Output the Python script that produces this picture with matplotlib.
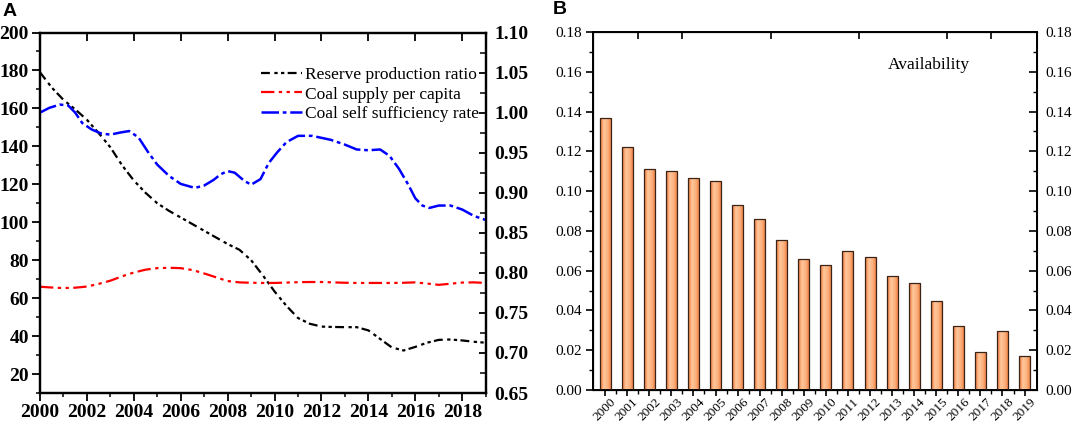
#Coal indicators (A) and availability bars (B), 2000-2019.

#Import libraries
import numpy as np
import matplotlib
matplotlib.use("Agg")
import matplotlib.pyplot as plt
from matplotlib.colors import LinearSegmentedColormap

#Panel A: reserve production ratio (left axis).
rpr_years = [2000, 2000.5, 2001, 2001.5, 2002, 2002.5, 2003, 2003.5, 2004, 2004.5,
             2005, 2005.5, 2006, 2006.5, 2007, 2007.5, 2008, 2008.5, 2009, 2009.5,
             2010, 2010.5, 2011, 2011.5, 2012, 2012.5, 2013, 2013.5, 2014, 2014.5,
             2015, 2015.5, 2016, 2016.5, 2017, 2017.5, 2018, 2018.5, 2019]
rpr_values = [179, 171, 164.5, 159.5, 154, 147, 139.5, 130, 122, 115.5,
              110, 106, 102.5, 99, 95.5, 92, 88.5, 85.5, 80, 72,
              63.5, 56, 49.5, 46.5, 45, 44.8, 44.7, 44.7, 43, 38.5,
              34, 32.4, 34.3, 36.5, 38, 38.2, 37.7, 37, 36.5]

#Coal supply per capita (left axis), same years.
supply_values = [66, 65.6, 65.3, 65.5, 66.1, 67.5, 69.2, 71.5, 73.5, 75,
                 75.8, 76, 75.8, 74.8, 73, 71, 69, 68.3, 68.1, 68,
                 68, 68.2, 68.4, 68.5, 68.5, 68.3, 68.1, 68, 68, 68,
                 68, 68.1, 68.3, 67.7, 67, 67.6, 68.2, 68.3, 68]

#Coal self sufficiency rate (right axis).
ssr_years = [2000, 2000.4, 2000.85, 2001.2, 2001.5, 2001.8, 2002.2, 2002.6, 2003, 2003.4,
             2003.8, 2004.2, 2004.6, 2005, 2005.5, 2006, 2006.6, 2007, 2007.4, 2007.7,
             2008, 2008.3, 2008.7, 2009, 2009.4, 2009.75, 2010.1, 2010.5, 2011, 2011.6,
             2012.4, 2013, 2013.5, 2014, 2014.5, 2014.9, 2015.3, 2015.7, 2016, 2016.3,
             2016.6, 2017, 2017.5, 2018, 2018.5, 2019]
ssr_values = [1.0, 1.006, 1.010, 1.009, 1.0, 0.987, 0.979, 0.974, 0.9725, 0.975,
              0.977, 0.969, 0.951, 0.935, 0.921, 0.911, 0.906, 0.909, 0.916, 0.923,
              0.927, 0.925, 0.915, 0.910, 0.917, 0.937, 0.950, 0.963, 0.971, 0.971,
              0.966, 0.960, 0.954, 0.953, 0.954, 0.946, 0.930, 0.910, 0.893, 0.884,
              0.881, 0.884, 0.884, 0.879, 0.871, 0.866]

#Panel B: availability per year.
bar_years = [str(y) for y in range(2000, 2020)]
availability = [0.137, 0.122, 0.111, 0.110, 0.1065, 0.105, 0.093, 0.086, 0.0755, 0.066,
                0.063, 0.070, 0.067, 0.0575, 0.054, 0.0445, 0.032, 0.019, 0.0295, 0.017]

serif = ["Liberation Serif", "DejaVu Serif"]
plt.rcParams["font.family"] = serif

fig = plt.figure(figsize=(10.72, 4.25), dpi=100)
W, H = 1072.0, 425.0

#---------------- Panel A ----------------
axA = fig.add_axes([40 / W, 1 - 393 / H, 445.7 / W, 360.5 / H])
axA2 = axA.twinx()

l1, = axA.plot(rpr_years, rpr_values, color="black", lw=1.6,
               ls=(0, (4, 2, 1.5, 1.5, 1.5, 1.5)), label="Reserve production ratio")
l2, = axA.plot(rpr_years, supply_values, color="red", lw=1.6,
               ls=(0, (6, 2, 1.5, 2, 1.5, 2)), label="Coal supply per capita")
l3, = axA2.plot(ssr_years, ssr_values, color="blue", lw=1.8,
                ls=(0, (7, 1.5, 1.5, 1.5)), label="Coal self sufficiency rate")

axA.set_xlim(2000, 2019)
axA.set_ylim(10, 200)
axA2.set_ylim(0.65, 1.10)
axA.set_xticks(range(2000, 2019, 2))
axA.set_xticks(range(2000, 2020), minor=True)
axA.set_yticks(range(20, 201, 20))
axA.set_yticks(range(10, 201, 10), minor=True)
axA2.set_yticks(np.arange(0.65, 1.101, 0.05))
axA2.set_yticks(np.arange(0.65, 1.101, 0.025), minor=True)
axA2.set_yticklabels(["%.2f" % v for v in np.arange(0.65, 1.101, 0.05)])

for lab in axA.get_xticklabels() + axA.get_yticklabels() + axA2.get_yticklabels():
    lab.set_fontweight("bold")
    lab.set_fontsize(14)
axA.tick_params(axis="both", which="major", direction="out", length=6, width=1.3, pad=2)
axA.tick_params(axis="both", which="minor", direction="out", length=3, width=1.1)
axA2.tick_params(axis="y", which="major", direction="in", length=5, width=1.3, pad=6)
axA2.tick_params(axis="y", which="minor", direction="in", length=4, width=1.1)
for sp in axA.spines.values():
    sp.set_linewidth(1.6)
for sp in axA2.spines.values():
    sp.set_linewidth(1.6)
#top ticks point inward
axA.xaxis.set_tick_params(which="major", top=True, labeltop=False)
for t in axA.xaxis.get_major_ticks():
    t.tick2line.set_marker(3)

axA.legend(handles=[l1, l2, l3], loc="upper right", bbox_to_anchor=(0.985, 0.905),
           frameon=False, fontsize=12.5, handlelength=2.4, handletextpad=0.15,
           labelspacing=0.2, borderpad=0, borderaxespad=0)

#---------------- Panel B ----------------
axB = fig.add_axes([593 / W, 1 - 390 / H, 443.7 / W, 358 / H])
x = np.arange(len(bar_years))
bars = axB.bar(x, availability, width=0.5, color="none", edgecolor="#3a2418",
               linewidth=0.9, zorder=3)
cmap = LinearSegmentedColormap.from_list(
    "orange", ["#EE7030", "#FFC89C", "#FBB07E", "#EE7636"])
grad = np.linspace(0, 1, 64).reshape(1, -1)
for b in bars:
    im = axB.imshow(grad, extent=[b.get_x(), b.get_x() + b.get_width(), 0, b.get_height()],
                    aspect="auto", cmap=cmap, zorder=2)
    im.set_clip_path(b)

axB.set_xlim(-0.55, 19.55)
axB.set_ylim(0, 0.18)
axB.set_xticks(x)
axB.set_xticklabels(bar_years, rotation=45, fontsize=9.5)
axB.set_xticks(x[:-1] + 0.5, minor=True)
axB.set_yticks(np.arange(0, 0.181, 0.02))
axB.set_yticklabels(["%.2f" % v for v in np.arange(0, 0.181, 0.02)], fontsize=11)
axB.set_yticks(np.arange(0, 0.181, 0.01), minor=True)
axB.tick_params(axis="both", which="major", direction="out", length=5, width=1.2, pad=3)
axB.tick_params(axis="both", which="minor", direction="out", length=3, width=1.0)
axB.tick_params(axis="x", which="major", length=4, pad=0.5)
for sp in axB.spines.values():
    sp.set_linewidth(1.4)

axB2 = axB.twinx()
axB2.set_ylim(0, 0.18)
axB2.set_yticks(np.arange(0, 0.181, 0.02))
axB2.set_yticklabels(["%.2f" % v for v in np.arange(0, 0.181, 0.02)], fontsize=11)
axB2.set_yticks(np.arange(0, 0.181, 0.01), minor=True)
axB2.tick_params(axis="y", which="major", direction="in", length=6, width=1.2, pad=6)
axB2.tick_params(axis="y", which="minor", direction="in", length=3, width=1.0)
axB2.spines["right"].set_linewidth(1.4)

#sparse inward ticks on top edge
axB3 = axB.twiny()
axB3.set_xlim(axB.get_xlim())
axB3.set_xticks([1.5, 3.5, 7.5, 11.5, 15.5, 17.5])
axB3.set_xticklabels([])
axB3.tick_params(axis="x", direction="in", length=5, width=1.2)

axB.text(0.665, 0.908, "Availability", transform=axB.transAxes, fontsize=12.5,
         ha="left", va="center")

#Panel letters
fig.text(3 / W, 1 - 3 / H, "A", fontsize=14, fontweight="bold", family="Liberation Sans",
         ha="left", va="top")
fig.text(553 / W, 1 - 1 / H, "B", fontsize=14, fontweight="bold", family="Liberation Sans",
         ha="left", va="top")

fig.savefig("out.png", dpi=100)
